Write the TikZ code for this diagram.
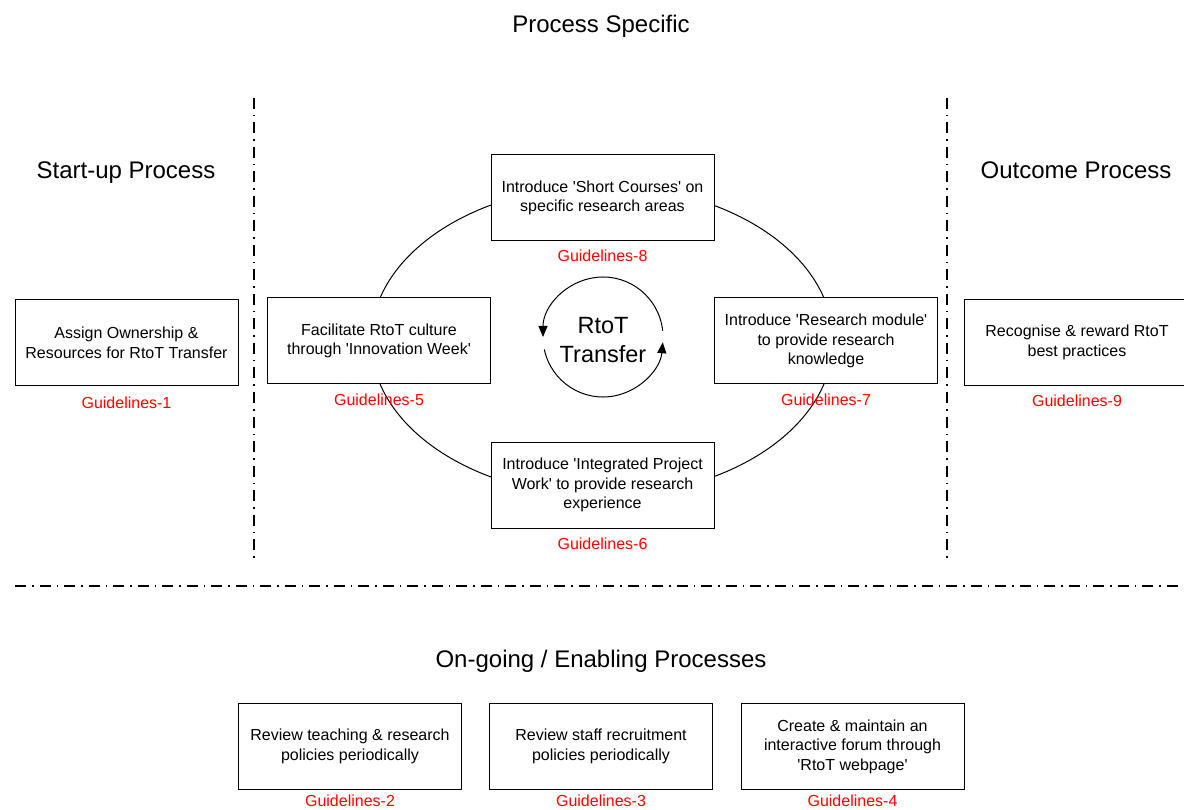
\documentclass[tikz,border=0pt]{standalone}
\usepackage{fontspec}
\setmainfont{Liberation Sans}
\usetikzlibrary{arrows.meta,calc}
\newcommand\sq{\textquotesingle}
\begin{document}
\begin{tikzpicture}[x=1pt,y=-1pt,
  box/.style={draw,line width=1pt,fill=white,minimum width=223pt,minimum height=86pt,align=center,inner sep=2pt,font=\fontsize{16}{19.5}\selectfont},
  gl/.style={text=red,font=\fontsize{16}{19}\selectfont,inner sep=0pt},
  ttl/.style={font=\fontsize{24}{28}\selectfont,inner sep=0pt,anchor=base},
  sepline/.style={line width=1.4pt,dash pattern=on 11pt off 6pt on 1.5pt off 6pt},
  cyc/.style={line width=1pt,-{Triangle[length=11pt,width=9pt]}}]
\clip (0,0) rectangle (1184,810);
% titles
\node[ttl] (tps) at (601,32.6) {Process Specific};
\node[ttl] (tsu) at (126,178.6) {Start-up Process};
\node[ttl] (top) at (1076,178.6) {Outcome Process};
\node[ttl] (ton) at (601,667.6) {On-going / Enabling Processes};
% separators
\coordinate (v1a) at (254,98); \coordinate (v1b) at (254,560);
\coordinate (v2a) at (947,98); \coordinate (v2b) at (947,560);
\coordinate (ha) at (15,586); \coordinate (hb) at (1184,586);
\draw[sepline] (v1a) -- (v1b);
\draw[sepline] (v2a) -- (v2b);
\draw[sepline] (ha) -- (hb);
% ellipse
\coordinate (ec) at (602,341);
\draw[line width=1pt] (ec) ellipse [x radius=231pt, y radius=155pt];
% boxes
\node[box] (b1) at (126.5,343) {Assign Ownership \&\\Resources for RtoT Transfer};
\node[box] (b5) at (379,341) {Facilitate RtoT culture\\through \sq Innovation Week\sq};
\node[box] (b8) at (602.5,198) {Introduce \sq Short Courses\sq{} on\\specific research areas};
\node[box] (b7) at (826,341) {Introduce \sq Research module\sq\\to provide research\\knowledge};
\node[box] (b6) at (602.5,485) {Introduce \sq Integrated Project\\Work\sq{} to provide research\\experience};
\node[box,minimum width=226pt] (b9) at (1077,342.5) {Recognise \& reward RtoT\\best practices};
\node[box] (b2) at (350,746.5) {Review teaching \& research\\policies periodically};
\node[box] (b3) at (601,746.5) {Review staff recruitment\\policies periodically};
\node[box] (b4) at (852.5,746.5) {Create \& maintain an\\interactive forum through\\\sq RtoT webpage\sq};
% guideline labels
\node[gl] (g1) at ($(b1.south)+(0,16)$) {Guidelines-1};
\node[gl] (g5) at ($(b5.south)+(0,15)$) {Guidelines-5};
\node[gl] (g8) at ($(b8.south)+(0,14)$) {Guidelines-8};
\node[gl] (g7) at ($(b7.south)+(0,15)$) {Guidelines-7};
\node[gl] (g6) at ($(b6.south)+(0,15)$) {Guidelines-6};
\node[gl] (g9) at ($(b9.south)+(0,15)$) {Guidelines-9};
\node[gl] (g2) at ($(b2.south)+(0,11)$) {Guidelines-2};
\node[gl] (g3) at ($(b3.south)+(0,11)$) {Guidelines-3};
\node[gl] (g4) at ($(b4.south)+(0,11)$) {Guidelines-4};
% centre cycle
\coordinate (cc) at (603,337);
\node[align=center,font=\fontsize{23.5}{29.5}\selectfont,inner sep=0pt] (rt) at (603,340) {RtoT\\Transfer};
\draw[cyc] ($(cc)+(6:60pt)$) arc[start angle=6, end angle=180, radius=60pt];
\draw[cyc] ($(cc)+(192:60pt)$) arc[start angle=192, end angle=355, radius=60pt];
\end{tikzpicture}
\end{document}
